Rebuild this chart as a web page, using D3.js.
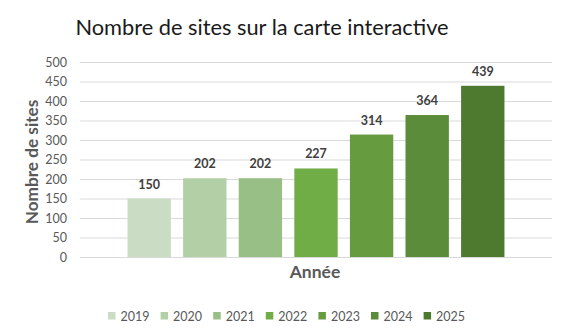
<!DOCTYPE html>
<html>
<head>
<meta charset="utf-8">
<script src="https://cdn.jsdelivr.net/npm/d3@7.9.0/dist/d3.min.js"></script>
<style>
  body { margin: 0; background: #fff; }
  svg { font-family: Lato, 'Open Sans', sans-serif; }
</style>
</head>
<body>
<svg width="565" height="330"></svg>
<script>
const years = ['2019', '2020', '2021', '2022', '2023', '2024', '2025'];
const sites = [150, 202, 202, 227, 314, 364, 439];
const barColors = ['#cadcc4', '#b3cfa6', '#98bf86', '#70ad47', '#669c3f', '#5a8c39', '#4d7a2f'];
const yTicks = [0, 50, 100, 150, 200, 250, 300, 350, 400, 450, 500];

const svg = d3.select('svg');
const plotLeft = 80, plotRight = 552, plotTop = 62, plotBottom = 257;

let x = d3.scaleBand().domain(years).range([plotLeft, plotRight]).paddingInner(0.22).paddingOuter(0.855);
let y = d3.scaleLinear().domain([0, 500]).range([plotBottom, plotTop]);
let color = d3.scaleOrdinal().domain(years).range(barColors);

// title
svg.append('text')
  .attr('x', 262).attr('y', 35)
  .attr('text-anchor', 'middle')
  .attr('font-size', 21.8)
  .attr('fill', '#1a1a1a')
  .text('Nombre de sites sur la carte interactive');

// gridlines + tick labels
let yAxis = d3.axisLeft(y).tickValues(yTicks).tickSize(-(plotRight - plotLeft)).tickPadding(13);
let g = svg.append('g').attr('transform', `translate(${plotLeft},0)`).call(yAxis);
g.select('.domain').remove();
g.selectAll('.tick line').attr('stroke', '#d9d9d9').attr('stroke-width', 1);
g.selectAll('.tick text')
  .attr('font-size', 12.5)
  .attr('font-family', 'Lato, sans-serif')
  .attr('fill', '#595959');

// bars
svg.selectAll('rect.bar')
  .data(years)
  .join('rect')
  .attr('class', 'bar')
  .attr('x', (d) => x(d))
  .attr('width', x.bandwidth())
  .attr('y', (d, i) => y(sites[i]))
  .attr('height', (d, i) => y(0) - y(sites[i]))
  .attr('fill', (d) => color(d));

// value labels
svg.selectAll('text.val')
  .data(years)
  .join('text')
  .attr('class', 'val')
  .attr('x', (d) => x(d) + x.bandwidth() / 2)
  .attr('y', (d, i) => y(sites[i]) - 10)
  .attr('text-anchor', 'middle')
  .attr('font-size', 12.5)
  .attr('font-weight', 'bold')
  .attr('fill', '#404040')
  .text((d, i) => sites[i]);

// axis titles
svg.append('text')
  .attr('x', 315).attr('y', 277.5)
  .attr('text-anchor', 'middle')
  .attr('font-size', 17.5)
  .attr('font-weight', 'bold')
  .attr('fill', '#595959')
  .text('Année');

svg.append('text')
  .attr('transform', 'translate(37.5,162) rotate(-90)')
  .attr('text-anchor', 'middle')
  .attr('font-size', 17.2)
  .attr('font-weight', 'bold')
  .attr('fill', '#595959')
  .text('Nombre de sites');

// legend
let legend = svg.append('g').attr('transform', 'translate(108,316)');
years.forEach((yr, i) => {
  let item = legend.append('g').attr('transform', `translate(${i * 52.6},0)`);
  item.append('rect')
    .attr('x', 0).attr('y', -4)
    .attr('width', 7.5).attr('height', 7.5)
    .attr('fill', color(yr));
  item.append('text')
    .attr('x', 12.5).attr('y', 4.5)
    .attr('font-size', 12.5)
    .attr('fill', '#595959')
    .text(yr);
});
</script>
</body>
</html>
